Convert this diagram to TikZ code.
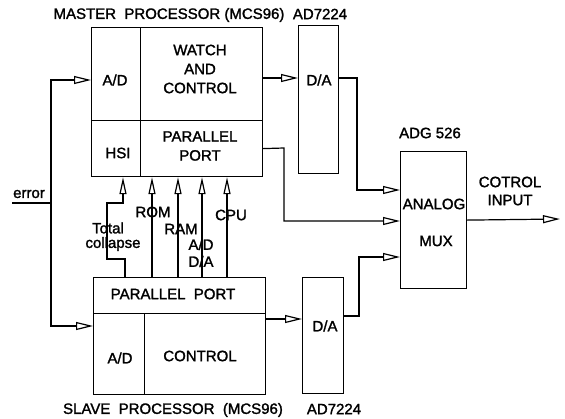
\documentclass[tikz,border=0pt]{standalone}
\usepackage{fontspec}
\setmainfont{Liberation Sans}[FakeBold=1.6]
\usetikzlibrary{arrows.meta}
\begin{document}
\begin{tikzpicture}[x=1pt,y=-1pt,line width=1.2pt,
  lbl/.style={inner sep=0pt,font=\fontsize{15}{17}\selectfont,align=center},
  cell/.style={draw,inner sep=0pt,anchor=north west},
  arr/.style={-{Triangle[open,length=17pt,width=8pt,line width=1.2pt]}},
  uparr/.style={-{Triangle[open,length=17pt,width=7pt,line width=1.2pt]}}]
\useasboundingbox (0,0) rectangle (565,418);
% master processor
\node[cell,minimum width=49pt,minimum height=93pt] (ma) at (91,27) {};
\node[cell,minimum width=122pt,minimum height=93pt] (mw) at (140,27) {};
\node[cell,minimum width=49pt,minimum height=56pt] (mh) at (91,120) {};
\node[cell,minimum width=122pt,minimum height=56pt] (mp) at (140,120) {};
\node[lbl] (mtitle) at (169,15) {MASTER\ \ PROCESSOR (MCS96)};
\node[lbl] (mad) at (115,80) {A/D};
\node[lbl] (mwt) at (200,69) {WATCH\\[2pt]AND\\[2pt]CONTROL};
\node[lbl] (mhsi) at (118,153) {HSI};
\node[lbl] (mpt) at (200,146) {PARALLEL\\[2pt]PORT};
% slave processor
\node[cell,minimum width=172pt,minimum height=36pt] (sp) at (93,277) {};
\node[cell,minimum width=51pt,minimum height=81pt] (sa) at (93,313) {};
\node[cell,minimum width=121pt,minimum height=81pt] (sc) at (144,313) {};
\node[lbl] (stitle) at (173,410) {SLAVE\ \ PROCESSOR\ \ (MCS96)};
\node[lbl] (spt) at (173,294) {PARALLEL\ \ PORT};
\node[lbl] (sad) at (120,358) {A/D};
\node[lbl] (sct) at (200,356) {CONTROL};
% D/A converters
\node[cell,minimum width=40pt,minimum height=148pt] (da1) at (298,25) {};
\node[lbl] (da1t) at (319,80) {D/A};
\node[lbl] (da1n) at (320,14) {AD7224};
\node[cell,minimum width=41pt,minimum height=116pt] (da2) at (302,277) {};
\node[lbl] (da2t) at (325,326) {D/A};
\node[lbl] (da2n) at (334,409) {AD7224};
% mux
\node[cell,minimum width=66pt,minimum height=137pt] (mux) at (400,151) {};
\node[lbl] (muxn) at (430,133) {ADG 526};
\node[lbl] (muxt) at (434,204) {ANALOG};
\node[lbl] (muxt2) at (436,241) {MUX};
\node[lbl] (outt) at (510,191) {COTROL\\[1pt]INPUT};
% error input
\node[lbl] (errt) at (29,194) {error};
\coordinate (errin) at (12,203);
\coordinate (j) at (51,203);
\draw (errin) -- (j);
\draw[arr] (j) |- (ma.west |- mad);
\draw[arr] (j) |- ([yshift=-13pt]sa.north west);
% master -> D/A -> mux
\draw[arr] (mw.east |- 0,78) -- (da1.west |- 0,78);
\draw[arr] (da1.east |- 0,78) -- (357,78) |- ([yshift=-39pt]mux.north west);
\draw[arr] (mp.east) -- (284,148) |- ([yshift=-70pt]mux.north west);
% slave -> D/A -> mux
\draw[arr] (sc.east |- 0,319) -- (da2.west |- 0,319);
\draw[arr] (da2.east |- 0,316) -- (359,316) |- ([yshift=-106pt]mux.north west);
% mux output
\coordinate (out) at (560,219);
\draw[arr] (mux.east) -- (out);
% bus lines
\draw[uparr] (125,0 |- sp.north) -- (125,259) -- (107,259) -- (107,203) -- (123,203) -- (123,0 |- mp.south);
\draw[uparr] (152,0 |- sp.north) -- (152,0 |- mp.south);
\draw[uparr] (178,0 |- sp.north) -- (178,0 |- mp.south);
\draw[uparr] (202,0 |- sp.north) -- (202,0 |- mp.south);
\draw[uparr] (227,0 |- sp.north) -- (227,0 |- mp.south);
\node[lbl] (total) at (108,228) {Total};
\node[lbl] (coll) at (113,244) {collapse};
\node[lbl] (rom) at (153,212) {ROM};
\node[lbl] (ram) at (181,229) {RAM};
\node[lbl] (adda) at (201,253) {A/D\\[0pt]D/A};
\node[lbl] (cpu) at (231,215) {CPU};
\end{tikzpicture}
\end{document}
